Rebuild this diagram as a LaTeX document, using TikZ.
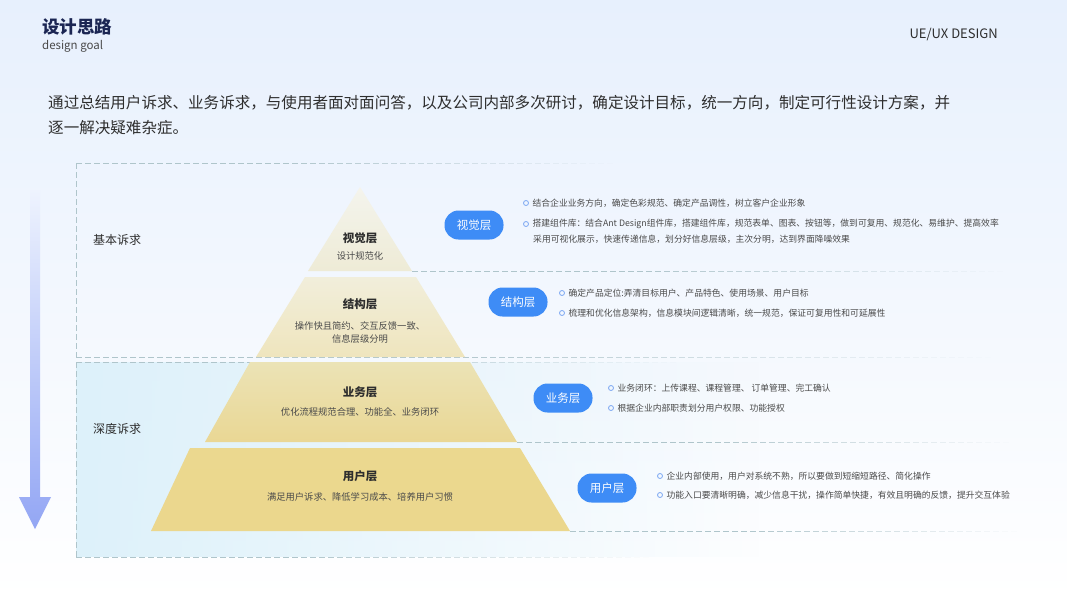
\documentclass[tikz,border=0pt]{standalone}
\usepackage{fontspec}
\setmainfont{Noto Sans CJK SC}
\usepackage{xcolor}
\usepackage{tikz}
\usetikzlibrary{positioning,fadings}
\definecolor{bgtop}{HTML}{E7F0FD}
\definecolor{navy}{HTML}{1B2653}
\definecolor{txtdark}{HTML}{2E2E2E}
\definecolor{txtgray}{HTML}{4A4A4A}
\definecolor{pillblue}{HTML}{3E8CF6}
\definecolor{dotblue}{HTML}{7AA6F2}
\definecolor{dashcol}{HTML}{AFC5CB}
\definecolor{boxcyan}{HTML}{DDF1FA}
\definecolor{arrowtop}{HTML}{EEF3FE}
\definecolor{arrowbot}{HTML}{93A6F4}

% faded dashed line: y, x from, x to
\newcommand{\fadedash}[3]{%
  \pgfmathtruncatemacro{\ndash}{(#3-#2)/9}
  \foreach \i in {0,...,\ndash}{
    \pgfmathsetmacro{\op}{min(1,1.6*(1-\i/\ndash))}
    \draw[dashcol, line width=0.9pt, draw opacity=\op] (#2+9*\i,#1) -- ++(6,0);
  }}

\begin{document}
\begin{tikzpicture}[
    x=1pt, y=-1pt,
    pill/.style={rounded corners=14pt, fill=pillblue, text=white, minimum width=59pt, minimum height=29pt, inner sep=0pt, font=\fontsize{11.5}{12}\selectfont},
    dot/.style={circle, draw=dotblue, line width=0.8pt, inner sep=0pt, minimum size=5pt},
    item/.style={anchor=west, inner sep=0pt, text=txtgray, font=\fontsize{8.8}{10}\selectfont},
    layertitle/.style={text=txtdark, font=\fontsize{11.5}{12}\selectfont\bfseries},
    layersub/.style={text=txtgray, font=\fontsize{9.3}{13}\selectfont, align=center},
    side/.style={text=txtdark, font=\fontsize{12}{12}\selectfont},
    edge/.style={dashcol, line width=0.9pt, dash pattern=on 6pt off 3pt}
]
% background
\shade[top color=bgtop, bottom color=white] (0,0) rectangle (1067,600);

% header
\node[anchor=west, inner sep=0pt, text=navy, font=\fontsize{17.5}{18}\selectfont\bfseries] (title) at (42,27) {设计思路};
\node[anchor=west, inner sep=0pt, text=txtgray, font=\fontsize{11.5}{12}\selectfont] (subtitle) at (42,46) {design goal};
\node[anchor=east, inner sep=0pt, text=txtdark, font=\fontsize{13}{13}\selectfont] (brand) at (998,34) {UE/UX DESIGN};
\node[anchor=west, inner sep=0pt, text=txtdark, font=\fontsize{15.55}{16}\selectfont] (intro1) at (48,103) {通过总结用户诉求、业务诉求，与使用者面对面问答，以及公司内部多次研讨，确定设计目标，统一方向，制定可行性设计方案，并};
\node[anchor=west, inner sep=0pt, text=txtdark, font=\fontsize{15.55}{16}\selectfont] (intro2) at (48,128) {逐一解决疑难杂症。};

% left arrow
\shade[top color=arrowtop, bottom color=arrowbot] (30,190) -- (40,190) -- (40,497) -- (51,497) -- (35,529) -- (19,497) -- (30,497) -- cycle;

% two boxes
\fill[boxcyan, path fading=east] (76,362) rectangle (760,557);
\draw[edge] (76,163) -- (76,357);
\draw[edge] (76,362) -- (76,557);
\fadedash{163}{76}{620}
\fadedash{357.5}{76}{1000}
\fadedash{362}{76}{680}
\fadedash{557}{76}{660}
\node[side] (basic) at (117,240) {基本诉求};
\node[side] (deep) at (117,429) {深度诉求};

% layer lines
\fadedash{271.5}{412}{1010}
\fadedash{442}{517}{1015}
\fadedash{531}{570}{1025}

% pyramid
\shade[top color={rgb,255:red,244;green,244;blue,237}, bottom color={rgb,255:red,238;green,235;blue,214}] (360,187) -- (412,271) -- (308,271) -- cycle;
\shade[top color={rgb,255:red,241;green,238;blue,219}, bottom color={rgb,255:red,239;green,229;blue,189}] (305,277) -- (416,277) -- (465,357) -- (256,357) -- cycle;
\shade[top color={rgb,255:red,235;green,227;blue,182}, bottom color={rgb,255:red,234;green,215;blue,148}] (250,362) -- (470,362) -- (517,442) -- (205,442) -- cycle;
\shade[top color={rgb,255:red,235;green,216;blue,143}, bottom color={rgb,255:red,235;green,215;blue,141}] (190,448) -- (520,448) -- (570,531) -- (151,531) -- cycle;

\node[layertitle] (vis) at (360,238) {视觉层};
\node[layersub] (vissub) at (360,256) {设计规范化};
\node[layertitle] (str) at (360,304) {结构层};
\node[layersub] (strsub) at (360,332.5) {操作快且简约、交互反馈一致、\\信息层级分明};
\node[layertitle] (biz) at (360,392) {业务层};
\node[layersub] (bizsub) at (360,412) {优化流程规范合理、功能全、业务闭环};
\node[layertitle] (usr) at (360,476) {用户层};
\node[layersub] (usrsub) at (360,497) {满足用户诉求、降低学习成本、培养用户习惯};

% pills
\node[pill] (pvis) at (474,225) {视觉层};
\node[pill] (pstr) at (518,302) {结构层};
\node[pill] (pbiz) at (563,398) {业务层};
\node[pill] (pusr) at (607,488) {用户层};

% notes
\node[dot] (d11) at (526,203) {};
\node[item, right=3.5pt of d11] (t11) {结合企业业务方向，确定色彩规范、确定产品调性，树立客户企业形象};
\node[dot] (d12) at (526,224) {};
\node[item, right=3.5pt of d12] (t12) {搭建组件库：结合Ant Design组件库，搭建组件库，规范表单、图表、按钮等，做到可复用、规范化、易维护、提高效率};
\node[item] (t12b) at (533,239) {采用可视化展示，快速传递信息，划分好信息层级，主次分明，达到界面降噪效果};

\node[dot] (d21) at (562,293) {};
\node[item, right=3.5pt of d21] (t21) {确定产品定位:弄清目标用户、产品特色、使用场景、用户目标};
\node[dot] (d22) at (562,313) {};
\node[item, right=3.5pt of d22] (t22) {梳理和优化信息架构，信息模块间逻辑清晰，统一规范，保证可复用性和可延展性};

\node[dot] (d31) at (611,388) {};
\node[item, right=3.5pt of d31] (t31) {业务闭环：上传课程、课程管理、 订单管理、完工确认};
\node[dot] (d32) at (611,408) {};
\node[item, right=3.5pt of d32] (t32) {根据企业内部职责划分用户权限、功能授权};

\node[dot] (d41) at (660,476) {};
\node[item, right=3.5pt of d41] (t41) {企业内部使用，用户对系统不熟，所以要做到短缩短路径、简化操作};
\node[dot] (d42) at (660,495) {};
\node[item, right=3.5pt of d42] (t42) {功能入口要清晰明确，减少信息干扰，操作简单快捷，有效且明确的反馈，提升交互体验};
\end{tikzpicture}
\end{document}
